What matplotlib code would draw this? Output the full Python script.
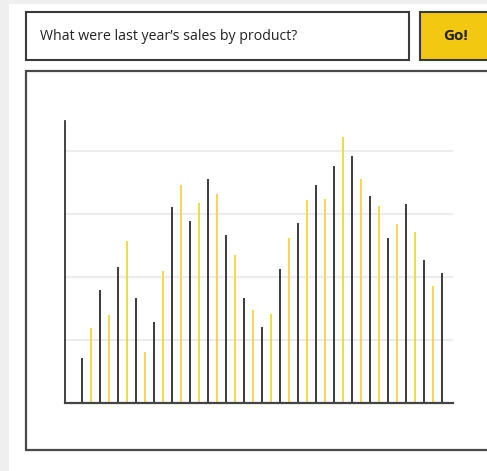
import matplotlib
matplotlib.use("Agg")
import matplotlib.pyplot as plt
from matplotlib.patches import Rectangle
import numpy as np

W, H = 487, 471
DPI = 100

question = "What were last year’s sales by product?"
button_label = "Go!"

# interleaved series: dark bars at even positions, yellow bars at odd positions
dark_values = [0.72, 1.79, 2.16, 1.67, 1.29, 3.11, 2.89, 3.55, 2.66, 1.67, 1.20,
               2.12, 2.85, 3.45, 3.76, 3.92, 3.28, 2.61, 3.15, 2.26, 2.06]
yellow_values = [1.19, 1.39, 2.56, 0.81, 2.10, 3.46, 3.17, 3.32, 2.34, 1.48,
                 1.41, 2.61, 3.21, 3.23, 4.21, 3.55, 3.12, 2.83, 2.71, 1.86]
grid_values = [1, 2, 3, 4]

DARK = "#2b2b2b"
YELLOW = "#F4D64E"
BTN = "#F2C811"
BORDER = "#3a3a3a"

fig = plt.figure(figsize=(W / DPI, H / DPI), dpi=DPI)
fig.patch.set_facecolor("white")

# UI layer in pixel coordinates (y down)
ui = fig.add_axes([0, 0, 1, 1])
ui.set_xlim(0, W)
ui.set_ylim(H, 0)
ui.axis("off")

# light gray side/top strips
ui.add_patch(Rectangle((0, 0), 9, H, facecolor="#efefef", edgecolor="none"))
ui.add_patch(Rectangle((0, 0), W, 4, facecolor="#efefef", edgecolor="none"))

# question box
ui.add_patch(Rectangle((26, 12), 383, 48, facecolor="white", edgecolor=BORDER, linewidth=1.5))
ui.text(40, 36.5, question, fontsize=10.2, family=["Open Sans", "DejaVu Sans"],
        color="#222222", va="center", ha="left")

# Go! button
ui.add_patch(Rectangle((420, 12), 80, 48, facecolor=BTN, edgecolor=BORDER, linewidth=1.5))
ui.text(455, 36, button_label, fontsize=11, family=["Open Sans", "DejaVu Sans"],
        fontweight="bold", color="#222222", va="center", ha="center")

# chart panel
ui.add_patch(Rectangle((26, 71), 480, 379, facecolor="white", edgecolor="#4a4a4a", linewidth=1.6))

# chart axes
x0, x1, ytop, ybot = 65, 453, 121, 403
ax = fig.add_axes([x0 / W, (H - ybot) / H, (x1 - x0) / W, (ybot - ytop) / H])
ax.set_facecolor("none")

n = len(dark_values) + len(yellow_values)
xd = np.arange(0, n, 2)
xy = np.arange(1, n, 2)
ax.vlines(xd, 0, dark_values, colors=DARK, linewidth=1.3)
ax.vlines(xy, 0, yellow_values, colors=YELLOW, linewidth=1.4)

for g in grid_values:
    ax.axhline(g, color="#ececec", linewidth=1.5, zorder=0)

ax.set_xlim(-1.92, 41.2)
ax.set_ylim(0, 4.47)
ax.set_xticks([])
ax.set_yticks([])
for s in ["top", "right"]:
    ax.spines[s].set_visible(False)
ax.spines["left"].set_color("#222222")
ax.spines["left"].set_linewidth(1.2)
ax.spines["bottom"].set_color("#444444")
ax.spines["bottom"].set_linewidth(1.6)

fig.savefig("out.png", dpi=DPI)
